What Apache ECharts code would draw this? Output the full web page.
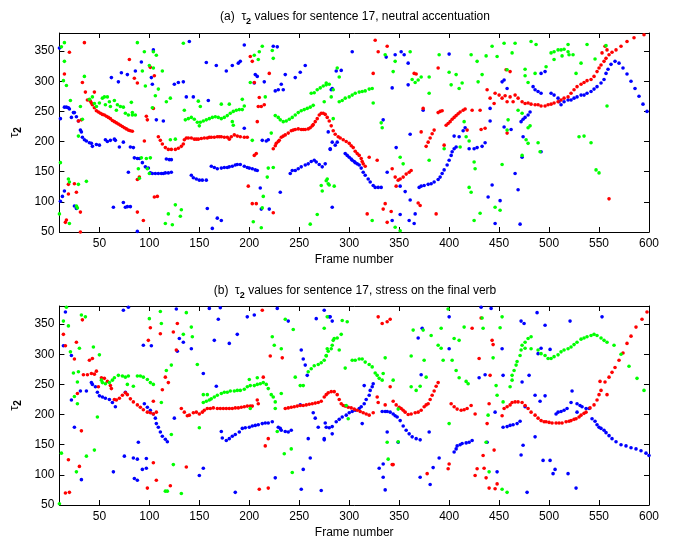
<!DOCTYPE html>
<html><head><meta charset="utf-8">
<script src="https://cdn.jsdelivr.net/npm/echarts@6/dist/echarts.min.js"></script>
<style>html,body{margin:0;padding:0;background:#fff}#c{width:675px;height:540px}</style>
</head><body><div id="c"></div>
<script>
// ---------- tick labels ----------
const xTicks = [50,100,150,200,250,300,350,400,450,500,550,600];
const yTicks = [50,100,150,200,250,300,350];
const titleA = ['(a)  τ', '2', ' values for sentence 17, neutral accentuation'];
const titleB = ['(b)  τ', '2', ' values for sentence 17, stress on the final verb'];
const xName = 'Frame number';

// ---------- (a) neutral accentuation : [frame, tau2] ----------
const topRed = [
[35,364],[20,348],[15,312],[33,298],[36,282],[45,282],[38,269],[29,234],[32,236],[19,129],[25,130],[27,116],[19,113],[31,83],[17,70],[16,66],[31,50],
[41,267],[42,264],[43,261],[45,256],[47,251],[49,249],[51,247],[53,245],[55,244],[57,242],[59,240],[61,238],[63,235],[65,233],[67,231],[69,229],[71,227],[73,225],[75,223],[77,221],[79,219],[81,218],[83,217],
[80,336],[85,305],[88,297],[101,323],[105,309],[104,255],[97,242],[98,236],[95,201],[90,141],[88,137],[105,108],[108,109],[88,83],[94,69],
[109,208],[111,202],[113,196],[116,190],[119,187],[122,187],[126,187],[129,189],[132,192],[134,196],[135,203],[137,206],[139,206],[142,206],[145,204],[147,204],[149,204],[152,205],[155,206],[158,206],[160,207],[162,207],[165,207],[168,208],[170,208],[172,208],[175,207],[178,207],[180,204],[182,208],[185,211],[188,209],[191,208],[195,207],[198,207],
[201,341],[203,333],[205,298],[210,273],[209,258],[212,258],[215,261],[208,233],[205,177],[207,180],[199,126],[203,97],[207,97],[224,82],[220,313],
[224,188],[226,193],[227,197],[229,200],[230,202],[232,207],[234,209],[236,211],[239,214],[242,218],[244,219],[246,220],[249,221],[252,220],[254,220],[256,220],[259,221],[261,223],[263,226],[264,228],[266,233],[268,238],[270,244],[272,247],[274,247],[276,245],[278,240],[280,234],[282,226],[284,218],[286,212],[289,208],[291,206],[294,203],[297,200],[300,197],[302,193],[304,190],[306,184],[308,180],[310,177],[312,172],[313,167],[314,163],[316,159],
[320,174],[328,169],[324,313],[329,349],[338,358],[326,368],[343,155],[347,126],[334,88],[336,97],[318,80],[342,84],[338,66],[369,98],[371,94],[387,80],[365,313],[367,312],[389,322],[374,255],[372,216],
[346,141],[349,136],[351,138],[354,141],[357,146],[360,149],[362,152],
[377,192],[379,199],[381,206],[383,213],[385,219],[389,248],[391,250],[393,251],
[397,227],[399,230],[401,233],[403,237],[405,240],[407,243],[409,246],[411,249],[414,252],[416,254],
[395,194],[418,219],[423,252],[431,252],[436,222],[432,220],[458,214],
[438,286],[441,272],[445,263],[446,280],[450,277],[453,272],[456,276],[458,266],[461,274],[464,266],[466,277],[469,272],[473,266],[476,263],[479,264],[482,262],[486,261],[489,261],[492,259],[496,259],[499,261],[502,262],[505,264],[509,266],[512,269],[515,272],[519,274],[522,280],[525,286],[528,291],[532,295],[535,298],[538,301],[542,303],[545,308],[548,316],[550,322],[552,327],[555,333],[557,338],[560,344],[558,352],[553,347],[556,358],[560,105],[457,319],[461,316],
[563,348],[567,352],[572,358],[578,366],[585,372],[595,377]
];
const topGreen = [
[15,364],[12,357],[15,333],[14,301],[17,293],[21,268],[31,258],[33,237],[29,209],[11,165],[19,138],[20,133],[29,129],[37,134],[27,93],[28,90],[10,80],[20,64],[35,308],
[40,270],[43,274],[45,263],[47,258],[50,264],[53,272],[55,274],[58,274],[56,261],[60,266],[61,258],[65,268],[68,261],[71,258],[74,257],[76,247],[79,244],[83,244],[86,244],[83,248],[67,252],[82,265],
[88,364],[95,349],[100,326],[104,349],[107,343],[104,322],[113,317],[93,317],[96,292],[106,276],[109,287],[117,266],[121,272],[103,256],[134,363],[92,173],[97,172],[101,173],[89,155],[98,155],[100,147],[90,139],[121,203],[126,204],[126,95],[119,80],[123,62],[132,87],[131,76],[116,64],
[135,252],[136,236],[139,238],[142,240],[145,237],[148,232],[151,232],[154,234],[157,236],[160,238],[163,240],[166,241],[169,240],[172,238],[175,240],[178,243],[181,247],[184,250],[187,252],[190,253],[193,253],[150,226],[172,262],[180,262],[183,233],[184,227],[193,270],[149,267],[151,258],[195,259],
[203,202],[201,298],[205,343],[210,349],[209,336],[213,358],[223,351],[224,338],[216,274],[219,156],[224,157],[218,141],[214,109],[213,90],[204,67],[212,57],[222,214],
[226,243],[229,240],[231,236],[234,233],[237,234],[240,237],[243,240],[246,244],[249,248],[252,251],[255,253],[258,255],[261,257],[264,260],[262,280],[265,281],[268,286],[271,289],[274,292],[277,294],[280,295],[284,286],[275,266],[284,238],[272,127],[277,135],[280,128],[273,118],[261,63],[268,79],
[277,297],[288,322],[290,307],[282,274],[278,138],[279,130],[285,126],
[290,266],[293,268],[296,272],[300,274],[303,277],[306,280],[310,282],[313,283],[316,284],[320,287],[323,288],
[324,264],[323,69],[346,58],[351,52],[351,174],[354,163],[332,231],[333,223],[344,316],[346,333],[336,344],[361,349],[363,303],[366,298],[369,302],[372,307],[380,307],[380,280],[390,344],[400,315],[402,294],[407,311],[410,288],[413,297],[422,344],[428,333],[429,299],[433,311],[437,342],[443,358],[448,341],[455,363],[458,319],[463,347],[466,363],[476,320],[476,309],[479,298],[482,366],[487,361],[486,313],[497,324],[505,336],[513,342],[519,361],[527,313],[532,330],[538,361],[546,337],[557,359],
[502,347],[505,349],[509,352],[512,352],[515,353],[519,349],[520,344],[524,344],
[469,252],[473,247],[481,226],[477,203],[479,197],[473,177],[491,183],[380,169],[395,188],[420,124],[422,116],[431,81],[425,69],[446,91],[451,86],[453,162],[459,236],[479,223],[489,198],[530,208],[535,209],[542,198],[547,153],[550,148],[558,259],[411,191],[415,233],[417,208],[420,201],[425,166],[426,155],[458,219]
];
const topBlue = [
[10,355],[15,257],[17,257],[19,256],[20,254],[11,238],[22,240],[24,248],[25,248],[29,234],[27,241],[31,219],[32,216],[33,207],[35,203],[37,201],[40,198],[42,197],[43,192],[47,195],[50,194],[15,118],[13,109],[11,101],
[56,203],[58,200],[61,202],[65,204],[66,202],[70,191],[74,199],[81,191],[84,190],[62,306],[69,299],[72,314],[78,311],[86,317],[88,51],[74,99],[76,91],[78,92],[81,92],[64,91],[79,149],[25,93],[27,89],
[85,173],[88,172],[90,172],[93,165],[96,158],[99,156],[101,148],[103,147],[106,147],[109,147],[112,147],[114,147],[116,148],[119,148],[122,149],[117,171],[120,170],[122,170],
[102,306],[103,295],[104,352],[92,332],[107,236],[114,234],[125,295],[129,298],[134,299],[137,274],[144,274],[140,366],
[142,144],[144,140],[147,138],[150,136],[153,136],[157,136],[162,159],[165,157],[168,155],[172,156],[175,157],[178,157],[180,158],[183,159],[186,161],[188,162],[191,162],[195,159],[198,157],[200,156],[203,155],[206,153],[208,152],
[158,89],[159,268],[163,56],[168,73],[172,69],[157,331],[167,326],[177,317],[183,326],[189,330],[191,333],[195,360],[195,222],[206,311],[208,308],[205,297],[215,299],[213,202],[217,201],[219,203],[226,284],[229,286],[234,286],[232,295],[236,311],[246,306],[251,315],[256,326],[224,358],[228,357],
[241,147],[243,152],[246,152],[249,155],[252,158],[256,161],[259,163],[262,167],[265,169],[267,166],[270,162],[273,158],[231,116],[211,123],[212,88],[220,88],[283,288],[281,187],[283,91],
[303,349],[287,317],[292,318],[282,286],[279,216],[283,199],[286,194],[288,199],[281,188],[276,163],
[296,180],[298,177],[300,174],[302,171],[303,169],[305,167],[306,165],[308,163],[310,161],[312,156],[314,149],[316,144],[319,138],[321,133],[324,127],[326,124],[329,124],[332,124],
[334,236],[337,340],[346,344],[352,349],[355,344],[359,330],[343,289],[347,190],[338,149],[351,126],[356,117],[361,103],[366,80],[360,69],[365,64],[351,79],[343,69],
[370,124],[372,126],[375,127],[379,129],[382,130],[385,133],[389,137],[391,141],[393,147],[395,153],[398,161],[400,169],[402,177],[403,183],[405,188],[407,191],
[374,252],[361,212],[359,294],[400,345],[405,209],[410,208],[414,218],[416,223],[420,188],[425,188],[428,190],[433,192],[436,198],[443,128],[439,108],[446,64],[451,102],[453,299],[455,302],[458,288],[441,234],[441,255],[455,224],[462,220],[469,120],[471,63],[466,147],
[472,233],[474,237],[476,240],[479,244],[481,249],[474,208],[473,174],[492,183],
[484,291],[486,286],[489,283],[492,280],[496,316],[492,313],
[502,280],[505,277],[509,272],[510,266],[512,261],[515,266],[519,269],[522,269],[525,272],[528,274],[532,277],[535,277],[538,280],[542,283],[545,287],[548,291],[552,297],[555,303],[557,313],[559,320],
[562,328],[566,333],[570,330],[574,322],[578,312],[582,300],[586,288],[590,275],[594,262],[598,250]
];

// ---------- (b) stress on the final verb : [frame, tau2] ----------
const botRed = [
[14,333],[16,314],[25,292],[27,320],[33,357],[40,290],[43,293],[47,272],[34,266],[38,266],[42,268],[45,267],[28,235],[32,173],[19,125],[30,114],[16,70],[20,71],
[49,246],[52,261],[55,260],[58,255],[61,248],[62,243],[65,225],[67,224],[70,227],[73,232],[76,236],[78,233],[81,226],[84,221],[88,216],[91,212],[94,208],[98,204],[101,203],[104,201],
[101,344],[99,323],[111,334],[104,222],[107,204],[116,262],[113,241],[119,253],[124,337],[127,307],[128,351],[137,113],[121,82],[98,78],[107,91],[104,120],
[132,210],[135,204],[138,198],[140,199],[144,203],[147,204],[150,201],[153,204],[155,207],[158,210],[161,210],[164,211],[168,210],[171,210],[174,210],[177,210],[180,210],[183,210],[186,211],[189,211],[192,212],[195,213],[198,214],[201,214],[203,214],[208,224],[209,218],
[213,373],[214,262],[221,297],[233,294],[219,160],[216,148],[210,76],[219,78],
[236,210],[239,211],[242,212],[245,213],[248,214],[251,215],[254,215],[257,216],[260,217],[263,218],[266,219],[269,220],[272,222],[275,229],[277,233],[279,236],[282,238],[285,238],[288,233],[290,225],[292,218],[294,215],[296,214],[299,212],[302,211],[305,209],[308,207],[311,205],[314,203],[317,201],[320,199],[324,203],
[329,362],[333,351],[338,354],[341,358],[328,229],[329,220],[336,216],[341,246],[343,117],[344,117],[399,110],[400,118],[378,102],
[344,222],[347,216],[350,212],[352,210],[354,207],[356,204],[359,200],[362,201],[366,203],[369,204],[372,207],[375,213],[377,216],[379,218],[381,225],[383,232],[385,239],[387,247],[389,253],
[402,218],[405,213],[408,209],[412,207],[415,208],[418,210],[422,215],[426,201],
[423,343],[430,293],[443,323],[444,316],[441,265],[440,218],[438,185],[445,141],[434,132],[428,110],[435,111],[426,99],[437,95],[440,78],[446,77],[448,85],[432,360],[453,198],
[455,210],[458,213],[461,216],[463,220],[466,221],[469,221],[473,220],[476,215],[479,210],[482,204],[486,199],[489,194],[492,190],[495,188],[497,188],[500,187],[503,186],[507,186],[510,186],[513,186],[517,188],[520,189],[522,190],[525,192],[527,193],[530,196],[532,199],[535,202],[537,204],[541,211],[545,216],[548,224],[550,233],[552,240],[556,254],[551,255],[558,233],
[560,262],[563,270],[566,278],[570,290],[574,302],[578,318],[582,330],[587,345],[593,358],[598,370]
];
const botGreen = [
[14,355],[19,347],[32,365],[36,362],[17,378],[21,304],[30,310],[44,312],[50,299],[24,269],[29,271],[25,230],[28,218],[48,196],[45,141],[12,136],[37,131],[10,52],[27,105],[28,254],
[52,257],[53,253],[56,251],[60,253],[63,257],[65,261],[69,265],[73,264],[76,262],[79,264],[88,264],[91,264],[94,262],[98,258],[101,253],[104,250],[78,250],[84,247],
[100,359],[112,351],[111,371],[117,273],[122,282],[112,220],[122,167],[124,117],[116,73],[118,73],[132,69],[137,369],[142,345],[143,329],[134,333],[148,283],[150,178],[154,233],[158,233],
[154,220],[157,222],[160,224],[162,226],[165,229],[168,232],[172,235],[175,237],[178,237],[181,239],[185,239],[188,240],[191,240],[195,242],[198,246],[201,248],[205,248],[208,250],[211,251],[214,253],[217,250],[219,243],[222,233],[224,229],[226,221],
[200,258],[201,210],[208,261],[223,329],[225,315],[232,309],[236,358],[244,341],[228,172],[235,135],[242,143],[243,104],[226,210],[232,235],[246,262],[251,248],[254,248],
[259,271],[262,276],[265,281],[269,283],[272,286],[275,290],[277,297],[279,305],[282,309],[283,315],[284,323],
[275,343],[278,362],[293,356],[298,354],[285,326],[288,327],[292,333],[278,309],[277,298],[290,307],
[303,290],[306,290],[310,292],[313,292],[316,287],[320,283],[323,279],[326,269],[328,265],[330,260],[333,257],
[296,277],[297,215],[299,193],[336,294],[344,257],[334,268],[338,154],[339,126],[349,155],[364,340],[362,297],[374,340],[375,290],[382,331],[392,343],[392,310],[389,315],[394,290],[399,375],[400,185],[403,290],[405,326],[410,323],[415,345],[407,273],[410,261],[417,255],[419,251],[434,343],[433,360],[444,294],[448,232],[451,344],[453,362],[447,248],[439,199],[454,221],[453,76],[458,71],[437,154],[440,105],[349,209],[362,246],[367,240],[371,247],[377,262],
[461,246],[463,257],[463,265],[465,273],[467,282],[468,288],[471,298],[472,307],[473,315],[476,320],[479,326],[482,329],[476,310],[482,309],[489,307],[492,301],[496,298],[499,293],[502,293],[505,296],[509,299],[512,304],[515,307],[519,309],[522,312],[525,316],[528,320],[532,325],[535,327],[538,329],[542,331],[545,333],[548,331],[552,327],[555,323],[558,320],
[565,315],[572,300],[580,280],[588,260],[595,240]
];
const botBlue = [
[16,370],[14,314],[22,298],[22,224],[31,239],[37,239],[42,253],[43,250],[46,246],[48,237],[50,231],[53,229],[56,227],[60,225],[63,220],[66,213],[76,237],[25,179],[32,92],[64,105],[75,131],[84,128],[88,126],[97,127],[85,94],[88,91],[93,109],[97,111],[89,154],[94,315],[102,314],[74,373],[79,378],
[95,218],[98,212],[101,207],[104,201],[106,194],[107,185],[109,179],[111,171],[113,164],[116,159],[118,155],
[125,194],[128,305],[130,326],[134,320],[127,375],[142,309],[154,268],[160,376],[171,377],[169,358],[167,247],[165,323],[180,318],[188,333],[198,362],[205,365],[154,111],[150,99],[172,172],[186,71],
[173,161],[177,157],[180,160],[183,164],[186,167],[190,171],[193,177],[196,178],[200,179],[203,181],[206,182],[209,183],[213,185],[216,186],[219,186],[223,188],[229,179],[231,177],[232,174],[236,172],[239,171],[242,174],
[226,95],[239,355],[228,376],[252,307],[254,292],[256,282],[258,265],[251,216],[264,203],[266,194],[269,179],[276,186],[283,180],[259,160],[275,158],[254,109],[261,128],[252,76],[272,74],[267,359],[275,373],[281,362],[283,355],
[280,362],[277,179],[280,178],[283,168],[275,160],
[287,188],[290,192],[293,196],[297,199],[300,203],[303,205],[306,207],[310,210],[312,213],[315,218],[317,225],[320,232],[321,240],[323,246],[324,251],[315,248],[313,185],
[333,205],[336,205],[338,205],[341,204],[344,201],[346,198],[348,196],[351,190],[354,181],[357,174],[360,168],[363,163],[367,160],[371,158],
[338,171],[334,118],[330,111],[334,96],[336,75],[349,154],[372,266],[380,171],[371,96],[381,84],[384,112],[390,128],[373,343],[369,327],[400,362],[400,309],[430,261],[432,378],[442,376],[436,266],[453,309],[446,204],[454,265],[438,154],[448,105],
[405,138],[407,143],[408,148],[411,150],[413,152],[417,153],[420,154],[423,157],
[454,179],[458,180],[461,182],[464,183],[468,185],[471,189],
[472,355],[475,351],[488,369],[496,348],[521,355],[480,265],[473,254],[476,213],[486,232],[491,222],[496,231],[501,308],[492,310],[489,301],[486,163],[474,149],[472,133],[494,124],[501,124],[506,109],[504,102],[519,102],[527,78],[478,71],[553,362],
[507,201],[509,204],[512,205],[515,207],[518,210],[523,239],[522,220],[528,218],[531,215],[533,213],[537,210],[540,210],[528,204],
[543,193],[546,189],[548,183],[550,179],[552,177],[555,174],[557,170],[560,165],
[563,160],[567,155],[572,150],[577,148],[582,145],[587,143],[592,140],[597,136],[600,132]
];

// ---------- chart ----------
const FONT = '"Liberation Sans", Arial, Helvetica, sans-serif';
const chart = echarts.init(document.getElementById('c'), null, {renderer: 'canvas'});
const grids = [
  {left: 51, top: 33, width: 598, height: 199},
  {left: 51, top: 306, width: 598, height: 199}
];
const lineStyle = {color: '#000', width: 1};
function xAxes(g) {
  return [
    {type: 'value', gridIndex: g, position: 'bottom', min: 10, max: 600,
     axisLine: {show: true, onZero: false, lineStyle},
     axisTick: {show: true, inside: true, length: 5, customValues: xTicks, lineStyle},
     axisLabel: {customValues: xTicks, color: '#000', fontSize: 12, fontFamily: FONT, margin: 6},
     splitLine: {show: false},
     name: xName, nameLocation: 'middle', nameGap: 22,
     nameTextStyle: {color: '#000', fontSize: 12, fontFamily: FONT}},
    {type: 'value', gridIndex: g, position: 'top', min: 10, max: 600,
     axisLine: {show: true, onZero: false, lineStyle},
     axisTick: {show: true, inside: true, length: 5, customValues: xTicks, lineStyle},
     axisLabel: {show: false}, splitLine: {show: false}}
  ];
}
function yAxes(g) {
  return [
    {type: 'value', gridIndex: g, position: 'left', min: 50, max: 380,
     axisLine: {show: true, onZero: false, lineStyle},
     axisTick: {show: true, inside: true, length: 5, customValues: yTicks, lineStyle},
     axisLabel: {customValues: yTicks, color: '#000', fontSize: 12, fontFamily: FONT, margin: 5},
     splitLine: {show: false},
     name: '{t|τ}{s|2}', nameLocation: 'middle', nameGap: 28, nameRotate: 90,
     nameTextStyle: {color: '#000', fontFamily: FONT,
       rich: {t: {fontSize: 13, fontFamily: FONT, color: '#000', lineHeight: 18, verticalAlign: 'middle'},
              s: {fontSize: 10, fontWeight: 'bold', fontFamily: FONT, color: '#000', lineHeight: 10, verticalAlign: 'bottom'}}}},
    {type: 'value', gridIndex: g, position: 'right', min: 50, max: 380,
     axisLine: {show: true, onZero: false, lineStyle},
     axisTick: {show: true, inside: true, length: 5, customValues: yTicks, lineStyle},
     axisLabel: {show: false}, splitLine: {show: false}}
  ];
}
function titleText(parts) { return '{t|' + parts[0] + '}{s|' + parts[1] + '}{t|' + parts[2] + '}'; }
const titleRich = {
  t: {fontSize: 12, fontWeight: 'normal', fontFamily: FONT, color: '#000', lineHeight: 18, verticalAlign: 'middle'},
  s: {fontSize: 9, fontWeight: 'bold', fontFamily: FONT, color: '#000', lineHeight: 9, verticalAlign: 'bottom'}
};
function sc(data, color, xi, yi) {
  return {type: 'scatter', data, xAxisIndex: xi, yAxisIndex: yi, symbol: 'circle', symbolSize: 3.6,
          itemStyle: {color, opacity: 1}, clip: true, silent: true, animation: false,
          emphasis: {disabled: true}};
}
chart.setOption({
  animation: false,
  backgroundColor: '#fff',
  title: [
    {text: titleText(titleA), left: 350, top: 3, textAlign: 'center', textStyle: {fontWeight: 'normal', rich: titleRich}},
    {text: titleText(titleB), left: 350, top: 277, textAlign: 'center', textStyle: {fontWeight: 'normal', rich: titleRich}}
  ],
  grid: grids,
  xAxis: [...xAxes(0), ...xAxes(1)],
  yAxis: [...yAxes(0), ...yAxes(1)],
  series: [
    sc(topBlue, '#0000ff', 0, 0), sc(topRed, '#ff0000', 0, 0), sc(topGreen, '#00ff00', 0, 0),
    sc(botBlue, '#0000ff', 2, 2), sc(botRed, '#ff0000', 2, 2), sc(botGreen, '#00ff00', 2, 2)
  ]
});
</script></body></html>
